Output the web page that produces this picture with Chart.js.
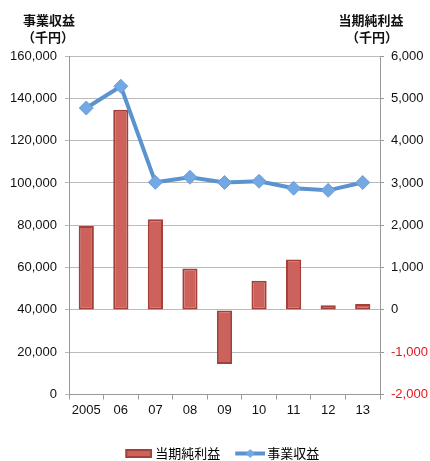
<!DOCTYPE html>
<html>
<head>
<meta charset="utf-8">
<script src="https://cdn.jsdelivr.net/npm/chart.js@4.4.1/dist/chart.umd.min.js"></script>
<style>
html,body{margin:0;padding:0;background:#fff;}
#wrap{width:430px;height:461px;position:relative;}
</style>
</head>
<body>
<div id="wrap"><canvas id="c" width="430" height="461"></canvas></div>
<script>
const categories = ['2005','06','07','08','09','10','11','12','13'];
const revenue = [135400, 145700, 100300, 102700, 100200, 100800, 97500, 96500, 100200]; // 事業収益 (千円)
const netIncome = [1980, 4730, 2140, 980, -1280, 690, 1190, 110, 140]; // 当期純利益 (千円)
const leftTicks = [0, 20000, 40000, 60000, 80000, 100000, 120000, 140000, 160000];
const rightTicks = [-2000, -1000, 0, 1000, 2000, 3000, 4000, 5000, 6000];
const revenueLabel = '事業収益';
const incomeLabel = '当期純利益';
const unitLabel = '（千円）';

const FONT = '"Liberation Sans", Arial, sans-serif';
const CJK = '"Noto Sans CJK JP", sans-serif';

function makeBarSwatch(){
  const c = document.createElement('canvas');
  c.width = 31; c.height = 9;
  const x = c.getContext('2d');
  x.fillStyle = '#A4403A'; x.fillRect(4,0,27,9);
  x.fillStyle = '#CC625B'; x.fillRect(6,2,23,5);
  return c;
}
function makeLineSwatch(){
  const c = document.createElement('canvas');
  c.width = 33; c.height = 11;
  const x = c.getContext('2d');
  x.strokeStyle = '#5B93CF'; x.lineWidth = 4;
  x.beginPath(); x.moveTo(3,5.5); x.lineTo(33,5.5); x.stroke();
  x.fillStyle = '#74A8E2';
  x.beginPath(); x.moveTo(18,1); x.lineTo(22.5,5.5); x.lineTo(18,10); x.lineTo(13.5,5.5); x.closePath(); x.fill();
  return c;
}

const titlePlugin = {
  id: 'axisTitles',
  afterLayout(chart){
    if (chart.legend) chart.legend.left += 14;
  },
  afterDraw(chart){
    const ctx = chart.ctx;
    ctx.save();
    ctx.fillStyle = '#111';
    ctx.textAlign = 'center';
    ctx.textBaseline = 'middle';
    ctx.font = 'bold 13px ' + CJK;
    ctx.fillText(revenueLabel, 49, 20);
    ctx.fillText(unitLabel, 48, 37);
    ctx.fillText(incomeLabel, 371, 20);
    ctx.fillText(unitLabel, 372, 37);
    ctx.restore();
  }
};

new Chart(document.getElementById('c'), {
  data: {
    labels: categories,
    datasets: [
      {
        type: 'line',
        label: revenueLabel,
        data: revenue,
        yAxisID: 'y',
        borderColor: '#5B93CF',
        backgroundColor: '#74A8E2',
        borderWidth: 4,
        pointStyle: 'rectRot',
        pointRadius: 7,
        pointBorderWidth: 1,
        pointBorderColor: '#6A9FDA',
        pointBackgroundColor: '#74A8E2',
        tension: 0,
        fill: false
      },
      {
        type: 'bar',
        label: incomeLabel,
        data: netIncome,
        yAxisID: 'y1',
        backgroundColor: '#CC625B',
        borderColor: '#A4403A',
        borderWidth: 2,
        borderSkipped: false,
        barPercentage: 0.44,
        categoryPercentage: 1.0
      }
    ]
  },
  options: {
    responsive: false,
    animation: false,
    layout: { padding: { top: 56, left: 0, right: 0, bottom: -9 } },
    plugins: {
      legend: {
        position: 'bottom',
        reverse: true,
        labels: {
          usePointStyle: true,
          pointStyleWidth: 24,
          color: '#111',
          font: { family: CJK, size: 13 },
          padding: 16.5,
          generateLabels(chart){
            return [
              { text: revenueLabel, pointStyle: makeLineSwatch(), datasetIndex: 0, fillStyle: '#5B93CF', strokeStyle: '#5B93CF', lineWidth: 0, hidden: false },
              { text: incomeLabel, pointStyle: makeBarSwatch(), datasetIndex: 1, fillStyle: '#CC625B', strokeStyle: '#A4403A', lineWidth: 0, hidden: false }
            ];
          }
        }
      },
      tooltip: { enabled: false }
    },
    scales: {
      x: {
        type: 'category',
        offset: true,
        border: { display: true, color: '#999', width: 1 },
        grid: { display: true, drawOnChartArea: false, drawTicks: true, offset: true, tickLength: 5, color: '#999' },
        ticks: { color: '#111', font: { family: FONT, size: 13 }, padding: 3, maxRotation: 0, autoSkip: false },
        afterFit(s){ s.height = 36; }
      },
      y: {
        position: 'left',
        min: 0, max: 160000,
        border: { display: true, color: '#999', width: 1 },
        grid: { color: '#BBB', lineWidth: 1, tickLength: 4, drawTicks: true },
        afterBuildTicks(s){ s.ticks = leftTicks.map(v => ({ value: v })); },
        ticks: {
          color: '#111', font: { family: FONT, size: 13 }, padding: 8,
          callback: v => v.toLocaleString('en-US')
        },
        afterFit(s){ s.width = 69; }
      },
      y1: {
        position: 'right',
        min: -2000, max: 6000,
        border: { display: true, color: '#999', width: 1 },
        grid: { drawOnChartArea: false, tickLength: 4, color: '#999' },
        afterBuildTicks(s){ s.ticks = rightTicks.map(v => ({ value: v })); },
        ticks: {
          font: { family: FONT, size: 13 }, padding: 7,
          color: ctx => (ctx.tick && ctx.tick.value < 0) ? '#E8141B' : '#111',
          callback: v => v.toLocaleString('en-US')
        },
        afterFit(s){ s.width = 50; }
      }
    }
  },
  plugins: [titlePlugin]
});
</script>
</body>
</html>
